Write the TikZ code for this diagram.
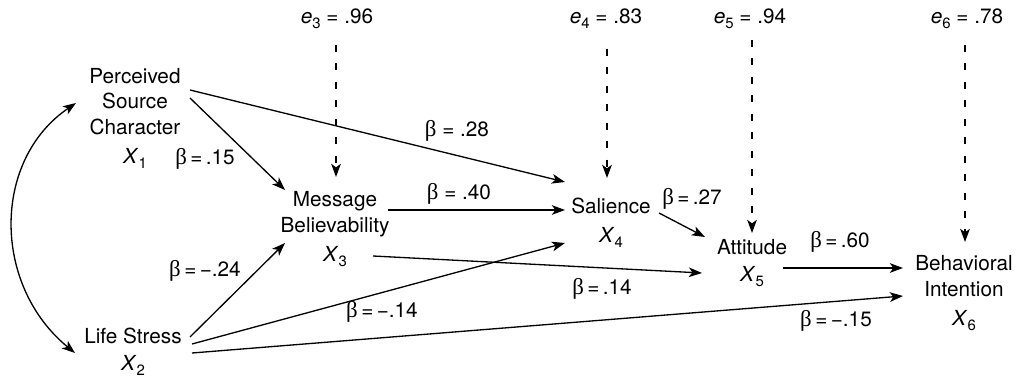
\documentclass[tikz,border=0pt]{standalone}
\usepackage{fontspec}
\setmainfont{TeX Gyre Heros}
\newfontfamily\grkfont{Liberation Serif}
\usetikzlibrary{arrows.meta}
% italic variable with a lowered upright index
\newcommand\vsub[2]{\textit{#1}\raisebox{-2.8pt}{\fontsize{8.5}{8.5}\selectfont #2}}
\newcommand\bet{{\grkfont\fontsize{13}{14.7}\selectfont β}}

\begin{document}
\begin{tikzpicture}[x=0.02cm,y=-0.02cm,
  txt/.style={font=\fontsize{11.8}{14.7}\selectfont, inner sep=0pt, align=center},
  tip/.style={-{Stealth[length=7.5pt,width=5.5pt,inset=2pt]}},
  pathline/.style={draw, line width=0.75pt, tip},
  errline/.style={draw, line width=0.75pt, dash pattern=on 4pt off 6.5pt, tip},
  corrline/.style={draw, line width=0.75pt,
    {Stealth[length=7.5pt,width=5.5pt,inset=2pt]}-{Stealth[length=7.5pt,width=5.5pt,inset=2pt]}}]
\useasboundingbox (0,0) rectangle (1016,378);

% variables
\node[txt] (x1) at (135,118) {Perceived\\Source\\Character\\[1.5pt]\vsub{X}{1}};
\node[txt] (x2) at (133,352) {Life Stress\\[0.5pt]\vsub{X}{2}};
\node[txt] (x3) at (335,229) {Message\\Believability\\[1.5pt]\vsub{X}{3}};
\node[txt] (x4) at (611,223) {Salience\\[2pt]\vsub{X}{4}};
\node[txt] (x5) at (752,263) {Attitude\\[0.5pt]\vsub{X}{5}};
\node[txt] (x6) at (964,293) {Behavioral\\Intention\\[1.5pt]\vsub{X}{6}};

% error terms
\node[txt] (e3) at (337,19) {\vsub{e}{3} = .96};
\node[txt] (e4) at (606,19) {\vsub{e}{4} = .83};
\node[txt] (e5) at (750,19) {\vsub{e}{5} = .94};
\node[txt] (e6) at (967,19) {\vsub{e}{6} = .78};

% correlation between the exogenous variables
\draw[corrline] ([shift={(-58,1)}]x2.center)
  .. controls (-8,285) and (-8,160) .. ([shift={(-59,-15)}]x1.center);

% structural paths
\draw[pathline] ([shift={(55,-28)}]x1.center) -- ([shift={(-46,-41)}]x4.center);
\draw[pathline] ([shift={(55,-20)}]x1.center) -- ([shift={(-50,-39)}]x3.center);
\draw[pathline] ([shift={(53,-19)}]x3.center) -- ([shift={(-46,-13)}]x4.center);
\draw[pathline] ([shift={(38,27)}]x3.center) -- ([shift={(-50,10)}]x5.center);
\draw[pathline] ([shift={(48,-10)}]x4.center) -- ([shift={(-47,-26)}]x5.center);
\draw[pathline] ([shift={(31,5)}]x5.center) -- ([shift={(-61,-25)}]x6.center);
\draw[pathline] ([shift={(57,-15)}]x2.center) -- ([shift={(-50,14)}]x3.center);
\draw[pathline] ([shift={(59,-8)}]x2.center) -- ([shift={(-46,20)}]x4.center);
\draw[pathline] ([shift={(59,1)}]x2.center) -- ([shift={(-61,3)}]x6.center);

% disturbances
\draw[errline] ([shift={(-1,26)}]e3.center) -- ([shift={(1,-52)}]x3.center);
\draw[errline] ([shift={(1,30)}]e4.center) -- ([shift={(-4,-45)}]x4.center);
\draw[errline] ([shift={(2,21)}]e5.center) -- ([shift={(0,-30)}]x5.center);
\draw[errline] ([shift={(-2,26)}]e6.center) -- ([shift={(1,-51)}]x6.center);

% path coefficients
\node[txt] (b28) at (457,131) {\bet{} = .28};
\node[txt] (b15) at (205,159) {\bet\,=\,.15};
\node[txt] (b40) at (459,194) {\bet{} = .40};
\node[txt] (b24) at (205,271) {\bet\,=\,−.24};
\node[txt] (b14n) at (382,312) {\bet\,=\,−.14};
\node[txt] (b14) at (602,289) {\bet\,=\,.14};
\node[txt] (b27) at (692,199) {\bet\,=\,.27};
\node[txt] (b60) at (840,242) {\bet\,=\,.60};
\node[txt] (b15n) at (836,321) {\bet\,=\,−.15};
\end{tikzpicture}
\end{document}
